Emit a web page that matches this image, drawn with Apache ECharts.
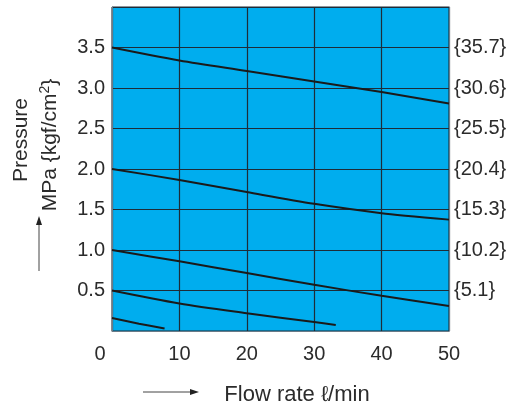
<!DOCTYPE html>
<html>
<head>
<meta charset="utf-8">
<script src="https://cdn.jsdelivr.net/npm/echarts@6/dist/echarts.min.js"></script>
<style>html,body{margin:0;padding:0;background:#fff}#c{width:515px;height:408px}</style>
</head>
<body>
<div id="c"></div>
<script>
// Flow rate (l/min) and pressure (MPa) for each curve
const flow1 = [0, 10, 20, 30, 40, 50];
const pres1 = [3.5, 3.34, 3.21, 3.08, 2.95, 2.81];
const flow2 = [0, 10, 20, 30, 40, 50];
const pres2 = [2.0, 1.865, 1.715, 1.57, 1.455, 1.375];
const flow3 = [0, 10, 20, 30, 40, 50];
const pres3 = [1.0, 0.86, 0.715, 0.57, 0.435, 0.31];
const flow4 = [0, 10, 20, 30, 33.2];
const pres4 = [0.5, 0.34, 0.22, 0.11, 0.075];
const flow5 = [0, 4, 7.8];
const pres5 = [0.16, 0.09, 0.03];

const xTicks = [0, 10, 20, 30, 40, 50];
const yTickValues = [0.5, 1.0, 1.5, 2.0, 2.5, 3.0, 3.5];
const yTickLabels = ['0.5', '1.0', '1.5', '2.0', '2.5', '3.0', '3.5'];
const kgfLabels = ['{5.1}', '{10.2}', '{15.3}', '{20.4}', '{25.5}', '{30.6}', '{35.7}'];

const xTitle = 'Flow rate ℓ/min';
const yTitle1 = 'Pressure';
const yTitle2Main = 'MPa {kgf/cm';
const yTitle2Sup = '2';
const yTitle2End = '}';

const curves = [[flow1, pres1], [flow2, pres2], [flow3, pres3], [flow4, pres4], [flow5, pres5]];

function labelFor(v, vals, labs) {
  for (let i = 0; i < vals.length; i++) if (Math.abs(vals[i] - v) < 1e-6) return labs[i];
  return '';
}

const FONT = 'Liberation Sans, Arial, Helvetica, sans-serif';
const TXT = '#2b2b2b';
const GRIDC = '#1e2c38';
const BORDER = '#6b7a86';
const TICK_FS = 20;
const TITLE_FS = 21;

const chart = echarts.init(document.getElementById('c'), null, {renderer: 'canvas'});
chart.setOption({
  animation: false,
  grid: {left: 112, right: 66, top: 7, bottom: 77, show: true, backgroundColor: '#00ADEE', borderColor: GRIDC, borderWidth: 1},
  xAxis: {
    type: 'value', min: 0, max: 50, interval: 10,
    axisLine: {show: true, lineStyle: {color: BORDER, width: 1}},
    axisTick: {show: false},
    splitLine: {show: true, lineStyle: {color: GRIDC, width: 1.2}},
    axisLabel: {
      margin: 13, fontSize: TICK_FS, color: TXT, fontFamily: FONT,
      formatter: v => v === 0 ? '{o|0}' : String(xTicks.find(t => t === v)),
      rich: {o: {fontSize: TICK_FS, color: TXT, fontFamily: FONT, padding: [0, 24, 0, 0]}}
    }
  },
  yAxis: [{
    type: 'value', min: 0, max: 4, interval: 0.5,
    axisLine: {show: true, lineStyle: {color: BORDER, width: 1}},
    axisTick: {show: false},
    splitLine: {show: true, lineStyle: {color: GRIDC, width: 1.2}},
    axisLabel: {margin: 7, fontSize: TICK_FS, color: TXT, fontFamily: FONT,
      formatter: v => labelFor(v, yTickValues, yTickLabels)}
  }, {
    type: 'value', min: 0, max: 4, interval: 0.5, position: 'right',
    axisLine: {show: true, lineStyle: {color: BORDER, width: 1}},
    axisTick: {show: false},
    splitLine: {show: false},
    axisLabel: {margin: 5, fontSize: TICK_FS, color: TXT, fontFamily: FONT,
      formatter: v => labelFor(v, yTickValues, kgfLabels)}
  }],
  graphic: [
    {type: 'text', x: 21, y: 140, rotation: Math.PI / 2,
      style: {text: yTitle1, fontSize: TITLE_FS, fontFamily: FONT, fill: TXT, align: 'center', verticalAlign: 'middle'}},
    {type: 'text', x: 50, y: 145, rotation: Math.PI / 2,
      style: {
        text: '{a|' + yTitle2Main + '}{s|' + yTitle2Sup + '}{a|' + yTitle2End + '}',
        fontSize: TITLE_FS, fontFamily: FONT, fill: TXT, align: 'center', verticalAlign: 'middle',
        rich: {
          a: {fontSize: TITLE_FS, fontFamily: FONT, fill: TXT, lineHeight: 24},
          s: {fontSize: 14, fontFamily: FONT, fill: TXT, verticalAlign: 'top', lineHeight: 24}
        }
      }},
    {type: 'line', shape: {x1: 39, y1: 271, x2: 39, y2: 222}, style: {stroke: '#444', lineWidth: 1}},
    {type: 'polygon', shape: {points: [[39, 216], [36, 225], [42, 225]]}, style: {fill: '#222'}},
    {type: 'line', shape: {x1: 143, y1: 392, x2: 193, y2: 392}, style: {stroke: '#444', lineWidth: 1}},
    {type: 'polygon', shape: {points: [[199, 392], [190, 389], [190, 395]]}, style: {fill: '#222'}},
    {type: 'text', x: 297, y: 395,
      style: {text: xTitle, fontSize: 22, fontFamily: FONT, fill: TXT, align: 'center', verticalAlign: 'middle'}}
  ],
  series: curves.map(c => ({
    type: 'line', smooth: 0.3, showSymbol: false, symbol: 'none',
    data: c[0].map((x, i) => [x, c[1][i]]),
    lineStyle: {color: '#1a1a1a', width: 2}
  }))
});
</script>
</body>
</html>
